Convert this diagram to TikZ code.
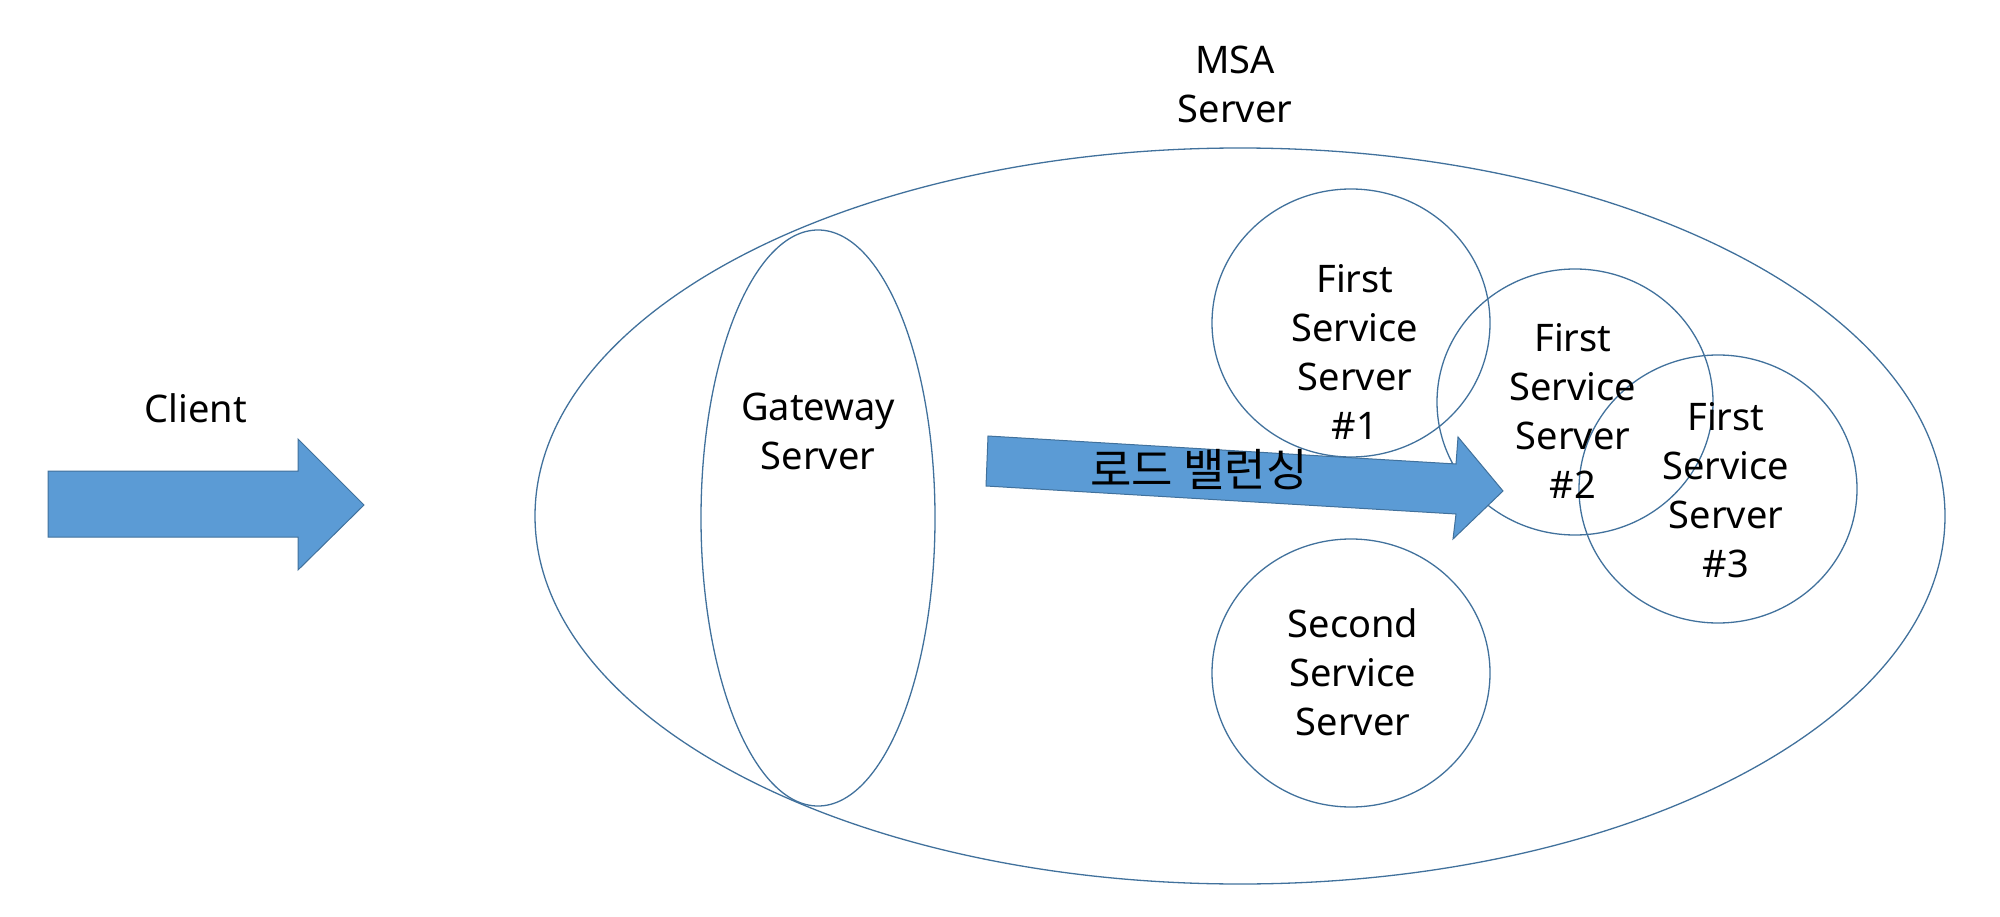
\documentclass[tikz,border=0pt]{standalone}
\usepackage{fontspec}
\setmainfont{Noto Sans}
\newfontfamily\kofont{Noto Sans CJK KR}
\definecolor{olline}{HTML}{41719C}
\definecolor{olfill}{HTML}{5B9BD5}
\begin{document}
\begin{tikzpicture}[x=1pt,y=-1pt,
  shapeline/.style={draw=olline,line width=1.3pt},
  blockarrow/.style={fill=olfill,draw=olline,line width=1pt,line join=miter},
  lbl/.style={align=center,inner sep=0pt,font=\fontsize{38}{49}\selectfont}]
\useasboundingbox (0,0) rectangle (2000,917);
% containers
\draw[shapeline] (1240,516) ellipse [x radius=705, y radius=368];
\draw[shapeline] (818,518) ellipse [x radius=117, y radius=288];
\draw[shapeline] (1351,323) ellipse [x radius=139, y radius=134];
\draw[shapeline] (1575,402) ellipse [x radius=138, y radius=133];
\draw[shapeline] (1718,489) ellipse [x radius=139, y radius=134];
\draw[shapeline] (1351,673) ellipse [x radius=139, y radius=134];
% client arrow
\draw[blockarrow] (48,471) -- (298,471) -- (298,439) -- (364,505) -- (298,570) -- (298,537) -- (48,537) -- cycle;
% load balancing arrow
\draw[blockarrow] (988,436) -- (1456,464) -- (1458,437) -- (1503,491) -- (1453,539) -- (1456,514) -- (986,486) -- cycle;
% labels
\node[lbl] (msa) at (1235,84) {MSA\\Server};
\node[lbl] (client) at (196,408) {Client};
\node[lbl] (gw) at (818,431) {Gateway\\Server};
\node[lbl] (s1) at (1355,352) {First\\Service\\Server\\\#1};
\node[lbl] (s2) at (1573,411) {First\\Service\\Server\\\#2};
\node[lbl] (s3) at (1726,490) {First\\Service\\Server\\\#3};
\node[lbl] (s4) at (1353,672) {Second\\Service\\Server};
\node[lbl,font=\kofont\fontsize{45}{49}\selectfont] (lb) at (1199,470) {로드 밸런싱};
\end{tikzpicture}
\end{document}
